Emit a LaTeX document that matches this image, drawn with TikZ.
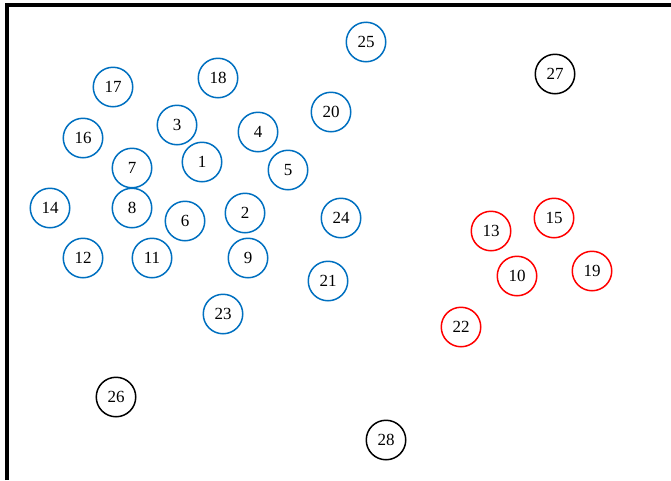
\documentclass[tikz,border=0pt]{standalone}
\usepackage{fontspec}
\setmainfont{Liberation Serif}
\usepackage{xcolor}
\usetikzlibrary{positioning, calc}
\definecolor{clusterblue}{RGB}{0,112,192}

\begin{document}
\begin{tikzpicture}[x=1pt, y=-1pt,
    every node/.style={circle, draw, line width=1.5pt, minimum size=39.5pt, inner sep=0pt, font=\fontsize{17}{19}\selectfont},
    inblue/.style={draw=clusterblue},
    inred/.style={draw=red},
    outlier/.style={draw=black}]
    \useasboundingbox (0,0) rectangle (671,480);
    \draw[line width=3.5pt] (7,480) -- (7,5) -- (671,5);
    % blue group
    \node[inblue] (n1) at (202,162) {1};
    \node[inblue] (n2) at (245,213) {2};
    \node[inblue] (n3) at (177,125) {3};
    \node[inblue] (n4) at (258,132) {4};
    \node[inblue] (n5) at (288,170) {5};
    \node[inblue] (n6) at (185,221) {6};
    \node[inblue] (n7) at (132,168) {7};
    \node[inblue] (n8) at (132,208) {8};
    \node[inblue] (n9) at (248,258) {9};
    \node[inblue] (n11) at (152,258) {11};
    \node[inblue] (n12) at (83,258) {12};
    \node[inblue] (n14) at (50,208) {14};
    \node[inblue] (n16) at (83,138) {16};
    \node[inblue] (n17) at (113,87) {17};
    \node[inblue] (n18) at (218,78) {18};
    \node[inblue] (n20) at (331,112) {20};
    \node[inblue] (n21) at (328,281) {21};
    \node[inblue] (n23) at (223,314) {23};
    \node[inblue] (n24) at (341,218) {24};
    \node[inblue] (n25) at (366,42) {25};
    % red group
    \node[inred] (n10) at (517,276) {10};
    \node[inred] (n13) at (491,231) {13};
    \node[inred] (n15) at (554,218) {15};
    \node[inred] (n19) at (592,271) {19};
    \node[inred] (n22) at (461,327) {22};
    % outliers
    \node[outlier] (n26) at (116,397) {26};
    \node[outlier] (n27) at (555,74) {27};
    \node[outlier] (n28) at (386,440) {28};
\end{tikzpicture}
\end{document}
